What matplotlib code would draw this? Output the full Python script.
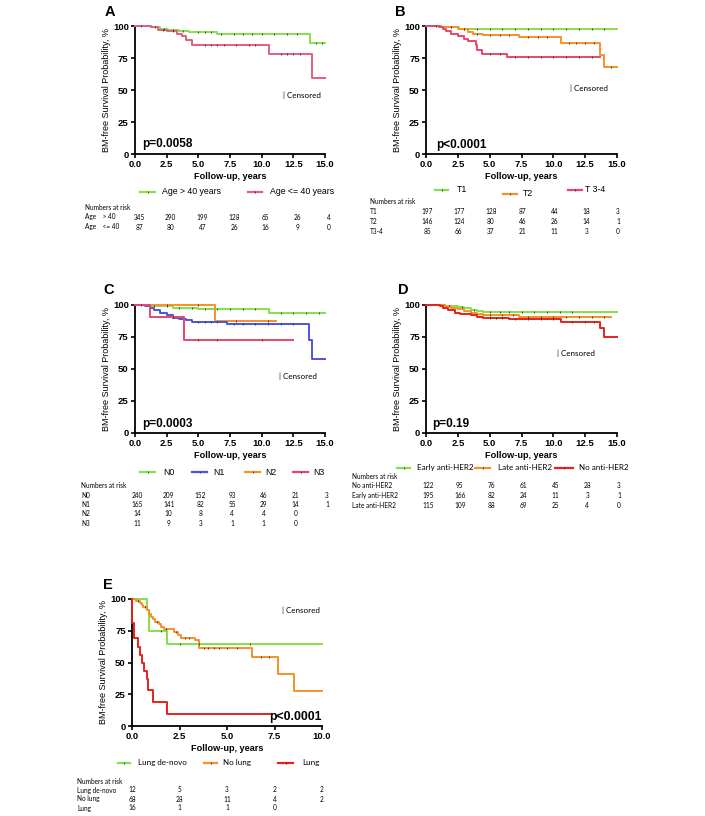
import numpy as np
import matplotlib
matplotlib.use("Agg")
import matplotlib.pyplot as plt
from matplotlib.lines import Line2D

W, H = 705, 816
plt.rcParams['font.family'] = ['Liberation Sans', 'DejaVu Sans']
TABLE_FONT = ['Lato', 'DejaVu Sans']

# ---------------- data ----------------
# A: age
a_labels = ["Age > 40 years", "Age <= 40 years"]
a_old_t = [0, 1.3, 2.0, 2.6, 3.5, 4.3, 6.5, 7.3, 13.8]
a_old_s = [100, 99, 98, 97, 96, 95, 94, 93.5, 87]
a_old_end = 15
a_old_cens = [0.5, 1.6, 2.3, 3.0, 3.8, 5.0, 5.5, 6.0, 6.8, 7.8, 8.5, 9.2, 10.0, 11.0, 12.0, 12.8, 14.3, 14.8]
a_young_t = [0, 1.3, 1.8, 2.5, 3.3, 3.7, 4.0, 4.5, 10.6, 14.0]
a_young_s = [100, 99, 97, 96, 94, 92, 89, 85, 78.5, 59]
a_young_end = 15
a_young_cens = [2.2, 3.0, 5.5, 6.0, 6.5, 7.0, 8.0, 9.0, 9.5, 11.5, 12.0, 12.5, 13.0]
a_risk_rows = ["Age    > 40", "Age    <= 40"]
a_risk = [[345, 290, 199, 128, 65, 26, 4],
          [87, 80, 47, 26, 16, 9, 0]]

# B: T stage
b_labels = ["T1", "T2", "T 3-4"]
b_t1_t = [0, 1.2, 1.6, 2.6]
b_t1_s = [100, 99.5, 99, 98]
b_t1_end = 15
b_t1_cens = [0.8, 2.0, 3.0, 4.0, 5.0, 6.0, 7.0, 8.0, 9.0, 10.0, 11.0, 12.0, 13.0, 14.0]
b_t2_t = [0, 1.2, 2.5, 3.3, 3.7, 4.5, 7.3, 10.6, 13.7, 14.0]
b_t2_s = [100, 99.5, 98, 95, 94, 93, 91.5, 87, 77, 68]
b_t2_end = 15
b_t2_cens = [2.0, 3.0, 4.0, 5.0, 5.8, 6.5, 8.0, 8.8, 9.5, 11.2, 11.8, 12.5, 13.2, 14.5]
b_t34_t = [0, 1.0, 1.3, 1.6, 2.0, 2.5, 3.0, 3.3, 3.9, 4.0, 4.4, 6.4]
b_t34_s = [100, 99, 98, 96, 94, 92, 90, 88, 85, 81, 78, 75.5]
b_t34_end = 13.7
b_t34_cens = [5.0, 5.8, 7.0, 8.0, 9.0, 10.0, 11.0, 12.0, 13.0]
b_risk_rows = ["T1", "T2", "T3-4"]
b_risk = [[197, 177, 128, 87, 44, 18, 3],
          [146, 124, 80, 46, 26, 14, 1],
          [85, 66, 37, 21, 11, 3, 0]]

# C: N stage
c_labels = ["N0", "N1", "N2", "N3"]
c_n0_t = [0, 1.0, 2.0, 3.0, 4.0, 5.0, 10.6]
c_n0_s = [100, 99.5, 99, 98, 97.5, 97, 94]
c_n0_end = 15
c_n0_cens = [0.5, 1.5, 2.5, 3.5, 4.5, 5.5, 6.5, 7.5, 8.5, 9.5, 11.5, 12.5, 13.5, 14.5]
c_n1_t = [0, 0.8, 1.2, 1.5, 2.0, 2.5, 3.0, 3.5, 4.0, 4.5, 7.3, 13.7, 14.0]
c_n1_s = [100, 99, 98, 96, 94, 92, 90, 89, 88, 86.5, 85, 73, 58]
c_n1_end = 15
c_n1_cens = [5.0, 5.5, 6.0, 6.5, 7.8, 8.5, 9.5, 10.5, 11.5, 12.5]
c_n2_t = [0, 6.3]
c_n2_s = [100, 87.5]
c_n2_end = 11.1
c_n2_cens = [2.5, 5.0, 8.0, 10.5]
c_n3_t = [0, 1.2, 3.85]
c_n3_s = [100, 90.5, 72.7]
c_n3_end = 12.5
c_n3_cens = [3.0, 5.0, 6.5, 10.0]
c_risk_rows = ["N0", "N1", "N2", "N3"]
c_risk = [[240, 209, 152, 93, 46, 21, 3],
          [165, 141, 82, 55, 29, 14, 1],
          [14, 10, 8, 4, 4, 0],
          [11, 9, 3, 1, 1, 0]]

# D: anti-HER2 treatment
d_labels = ["Early anti-HER2", "Late anti-HER2", "No anti-HER2"]
d_early_t = [0, 1.0, 1.5, 2.0, 2.5, 3.0, 3.5, 4.0, 4.5]
d_early_s = [100, 99.7, 99.5, 99, 98.5, 97.5, 96, 95, 94.7]
d_early_end = 15
d_early_cens = [1.8, 2.8, 3.8, 5.0, 5.8, 6.5, 7.5, 8.5, 9.5, 10.5, 11.5]
d_late_t = [0, 1.5, 2.0, 2.5, 3.0, 3.5, 4.0, 4.5, 7.3]
d_late_s = [100, 99, 98, 97, 95.5, 94, 93, 92, 91]
d_late_end = 14.5
d_late_cens = [5.0, 6.0, 6.8, 8.0, 9.0, 10.0, 11.0, 12.0, 13.0, 14.0]
d_no_t = [0, 1.1, 1.3, 1.7, 2.3, 2.7, 3.5, 4.0, 4.5, 6.5, 10.6, 13.7, 14.0]
d_no_s = [100, 99, 98, 96, 94, 93, 92, 91, 90, 89, 87, 82, 75]
d_no_end = 15
d_no_cens = [5.0, 5.5, 6.0, 7.0, 8.0, 9.0, 10.0, 11.5, 12.5, 13.2]
d_risk_rows = ["No anti-HER2", "Early anti-HER2", "Late anti-HER2"]
d_risk = [[122, 95, 76, 61, 45, 28, 3],
          [195, 166, 82, 24, 11, 3, 1],
          [115, 109, 88, 69, 25, 4, 0]]

# E: lung metastasis
e_labels = ["Lung de-novo", "No lung", "Lung"]
e_denovo_t = [0, 0.78, 0.9, 1.85]
e_denovo_s = [100, 91.7, 75, 64.3]
e_denovo_end = 10
e_denovo_cens = [1.5, 2.5, 3.5, 6.2]
e_nolung_t = [0, 0.2, 0.4, 0.5, 0.6, 0.8, 0.9, 1.0, 1.1, 1.2, 1.4, 1.5, 1.7, 2.0,
              2.2, 2.4, 2.6, 3.3, 3.5, 6.3, 7.7, 8.5]
e_nolung_s = [100, 98.5, 97, 95.5, 94, 91, 88, 86, 84, 82, 80, 78, 76.5, 76,
              74, 72, 69, 67.5, 61.5, 54.5, 41, 27.5]
e_nolung_end = 10
e_nolung_cens = [0.3, 0.7, 1.3, 1.8, 2.3, 2.8, 3.0, 3.8, 4.0, 4.3, 4.6, 5.0, 5.5, 6.8, 7.2]
e_lung_t = [0, 0.02, 0.12, 0.33, 0.42, 0.51, 0.65, 0.77, 0.85, 1.12, 1.83]
e_lung_s = [100, 81, 69, 62.5, 56, 50, 43.5, 37, 28.7, 19.2, 9.8]
e_lung_end = 7.35
e_lung_cens = []
e_risk_rows = ["Lung de-novo", "No lung", "Lung"]
e_risk = [[12, 5, 3, 2, 2],
          [68, 28, 11, 4, 2],
          [16, 1, 1, 0]]

GREEN = '#86e04a'
PINK = '#e2607e'
ORANGE = '#f5922a'
ROSE = '#e8466a'
BLUE = '#4a55e0'
RED = '#e8201e'

fig = plt.figure(figsize=(W / 100, H / 100), dpi=100)


def make_ax(x0, y0, x1, y1, xmax):
    ax = fig.add_axes([x0 / W, 1 - y1 / H, (x1 - x0) / W, (y1 - y0) / H])
    ax.set_xlim(0, xmax)
    ax.set_ylim(0, 100)
    for s in ['top', 'right']:
        ax.spines[s].set_visible(False)
    for s in ['left', 'bottom']:
        ax.spines[s].set_linewidth(1.3)
    ax.set_xticks(np.arange(0, xmax + 0.01, 2.5))
    ax.set_xticklabels(['%.1f' % v for v in np.arange(0, xmax + 0.01, 2.5)])
    ax.set_yticks([0, 25, 50, 75, 100])
    ax.tick_params(length=3, width=1.2, pad=1.5, labelsize=6.8)
    for lab in ax.get_xticklabels() + ax.get_yticklabels():
        lab.set_fontweight('bold')
    ax.set_xlabel('Follow-up, years', fontsize=6.6, fontweight='bold', labelpad=2)
    ax.set_ylabel('BM-free Survival Probability, %', fontsize=6.5, labelpad=1)
    return ax


def km(ax, t, s, end, cens, color):
    tt = list(t) + [end]
    ss = list(s) + [s[-1]]
    ax.step(tt, ss, where='post', color=color, lw=1.4, clip_on=False, zorder=3)
    if cens:
        idx = np.searchsorted(t, cens, side='right') - 1
        ax.plot(cens, np.array(s)[idx], ls='none', marker='|', ms=1.8,
                mew=0.6, color='#333333', zorder=4, clip_on=False)


def legend(items, ypx, size=6.3, family=None):
    # items: (label, color, line x start, line x end, text x)
    for lab, col, x1, x2, xt in items:
        fy = 1 - ypx / H
        fig.add_artist(Line2D([x1 / W, x2 / W], [fy, fy], color=col, lw=1.6,
                              transform=fig.transFigure))
        fig.add_artist(Line2D([(x1 + x2) / 2 / W], [fy], marker='|', ms=1.5,
                              mew=0.6, color='#333333', transform=fig.transFigure))
        fig.text(xt / W, fy, lab, fontsize=size, va='center', ha='left',
                 family=family if family else plt.rcParams['font.family'])


def risk_table(ax, xlabel_px, y_header, dy, rows, values, x_off):
    fig.text(xlabel_px / W, 1 - y_header / H, 'Numbers at risk', fontsize=4.7,
             family=TABLE_FONT, va='center')
    for i, (name, vals) in enumerate(zip(rows, values)):
        y = 1 - (y_header + dy * (i + 1)) / H
        fig.text(xlabel_px / W, y, name, fontsize=4.7, family=TABLE_FONT, va='center')
        for j, v in enumerate(vals):
            xd = j * 2.5
            xf = fig.transFigure.inverted().transform(ax.transData.transform((xd, 0)))[0]
            fig.text(xf + x_off / W, y, str(v), fontsize=4.7, family=TABLE_FONT,
                     va='center', ha='center')


def censored(ax, x, y):
    ax.text(x, y, '| Censored', fontsize=5.8, family=TABLE_FONT, va='center')


# ---------------- A ----------------
axA = make_ax(135, 26, 325, 154, 15)
km(axA, a_old_t, a_old_s, a_old_end, a_old_cens, GREEN)
km(axA, a_young_t, a_young_s, a_young_end, a_young_cens, PINK)
axA.text(0.6, 8, 'p=0.0058', fontsize=8.5, fontweight='bold', va='center')
censored(axA, 11.7, 46)
legend([(a_labels[0], GREEN, 140, 155, 162), (a_labels[1], PINK, 248, 262, 270)], 192)
risk_table(axA, 85, 207, 10, a_risk_rows, a_risk, 4)

# ---------------- B ----------------
axB = make_ax(426, 26, 617, 154, 15)
km(axB, b_t1_t, b_t1_s, b_t1_end, b_t1_cens, GREEN)
km(axB, b_t2_t, b_t2_s, b_t2_end, b_t2_cens, ORANGE)
km(axB, b_t34_t, b_t34_s, b_t34_end, b_t34_cens, ROSE)
axB.text(0.8, 7, 'p<0.0001', fontsize=8.5, fontweight='bold', va='center')
censored(axB, 11.3, 51)
legend([(b_labels[0], GREEN, 435, 448, 457), (b_labels[2], ROSE, 568, 582, 585)], 190)
legend([(b_labels[1], ORANGE, 503, 517, 523)], 194)
risk_table(axB, 370, 202, 9.7, b_risk_rows, b_risk, 1)

# ---------------- C ----------------
axC = make_ax(135, 305, 325, 433, 15)
km(axC, c_n0_t, c_n0_s, c_n0_end, c_n0_cens, GREEN)
km(axC, c_n2_t, c_n2_s, c_n2_end, c_n2_cens, ORANGE)
km(axC, c_n1_t, c_n1_s, c_n1_end, c_n1_cens, BLUE)
km(axC, c_n3_t, c_n3_s, c_n3_end, c_n3_cens, ROSE)
axC.text(0.6, 7, 'p=0.0003', fontsize=8.5, fontweight='bold', va='center')
censored(axC, 11.4, 44.5)
legend([(c_labels[0], GREEN, 140, 155, 163), (c_labels[1], BLUE, 192, 207, 213),
        (c_labels[2], ORANGE, 245, 260, 265), (c_labels[3], ROSE, 293, 308, 313)], 472)
risk_table(axC, 81, 486, 9.3, c_risk_rows, c_risk, 2)

# ---------------- D ----------------
axD = make_ax(426, 305, 617, 433, 15)
km(axD, d_early_t, d_early_s, d_early_end, d_early_cens, GREEN)
km(axD, d_late_t, d_late_s, d_late_end, d_late_cens, ORANGE)
km(axD, d_no_t, d_no_s, d_no_end, d_no_cens, RED)
axD.text(0.5, 7, 'p=0.19', fontsize=8.5, fontweight='bold', va='center')
censored(axD, 10.3, 62.5)
legend([(d_labels[0], GREEN, 397, 410, 417), (d_labels[1], ORANGE, 475, 490, 498),
        (d_labels[2], RED, 555, 573, 579)], 468, size=5.8, family=TABLE_FONT)
risk_table(axD, 352, 476, 10, d_risk_rows, d_risk, 2)

# ---------------- E ----------------
axE = make_ax(132, 599, 322, 726, 10)
km(axE, e_denovo_t, e_denovo_s, e_denovo_end, e_denovo_cens, GREEN)
km(axE, e_nolung_t, e_nolung_s, e_nolung_end, e_nolung_cens, ORANGE)
km(axE, e_lung_t, e_lung_s, e_lung_end, e_lung_cens, RED)
axE.text(10, 7, 'p<0.0001', fontsize=8.8, fontweight='bold', va='center', ha='right')
censored(axE, 7.9, 91)
legend([(e_labels[0], GREEN, 118, 130, 138), (e_labels[1], ORANGE, 204, 217, 223),
        (e_labels[2], RED, 278, 293, 302)], 763, size=5.8, family=TABLE_FONT)
risk_table(axE, 77, 781, 9, e_risk_rows, e_risk, 0)

# panel letters
for letter, (x, y) in zip('ABCDE', [(110, 12), (400, 12), (109, 290), (403, 290), (108, 585)]):
    fig.text(x / W, 1 - y / H, letter, fontsize=10.5, fontweight='bold',
             ha='center', va='center')

fig.savefig('out.png', dpi=100)
